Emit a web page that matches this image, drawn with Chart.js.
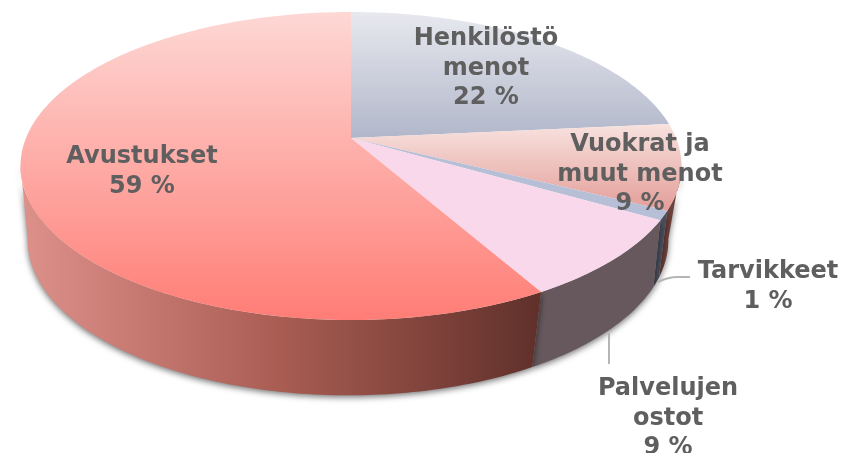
<!DOCTYPE html>
<html><head><meta charset="utf-8">
<style>html,body{margin:0;padding:0;background:#fff}canvas{display:block}</style>
<script src="https://cdn.jsdelivr.net/npm/chart.js@4"></script>
</head><body><canvas id="c" width="841" height="453"></canvas>
<script>
const categories = [["Henkilöstö","menot"],["Vuokrat ja","muut menot"],["Tarvikkeet"],["Palvelujen","ostot"],["Avustukset"]];
const values = [22, 9, 1, 9, 59];
const labelCenters = [[486,39],[640,145],[768,272],[668,389],[142,157]];

const canvas = document.getElementById('c');
const g = canvas.getContext('2d');
function vgrad(y0,y1,stops){const l=g.createLinearGradient(0,y0,0,y1);stops.forEach((s,i)=>l.addColorStop(i/(stops.length-1),s));return l;}
function hgrad(x0,x1,stops){const l=g.createLinearGradient(x0,0,x1,0);stops.forEach((s,i)=>l.addColorStop(i/(stops.length-1),s));return l;}
const topFills = [
  vgrad(12,138,['#e8e9ef','#b1b7ca']),
  vgrad(124,215,['#f8e2df','#e29a95']),
  '#b7bfd6',
  '#f8d8ea',
  vgrad(12,320,['#fdd8d5','#ff7d76'])
];
const wallFills = [
  '#6e4540','#6e413c','#4a4e5c','#66585d',
  hgrad(25,540,['#dc908a','#a85c52','#60302a'])
];
const P = 56/308, top3d={cx:351,cy:138,a:325,b:148.9}, bot3d={cx:348,cy:212,a:315,b:150};
const rad = d=>d*Math.PI/180;
function proj(m,deg){const u=Math.sin(rad(deg)),v=-Math.cos(rad(deg)),w=1/(1-P*v);return [m.cx+m.a*u*w,m.cy+m.b*v*w];}
const warp = deg=>deg+5.4*Math.sin(rad(deg));
const botAngle = deg=>{
  if(deg<=100||deg>=150) return deg;
  return deg-(deg<118?3*(deg-100)/18:3*(150-deg)/32);
};
const toDeg = ang=>ang*180/Math.PI+90;

const ArcEl = Chart.registry.getElement('arc');
ArcEl.prototype.draw = function(ctx){
  const s=warp(toDeg(this.startAngle)), e=warp(toDeg(this.endAngle));
  ctx.save();
  ctx.beginPath();
  ctx.moveTo(top3d.cx,top3d.cy);
  const n=Math.max(2,Math.ceil(e-s));
  for(let i=0;i<=n;i++){const p=proj(top3d,s+(e-s)*i/n);ctx.lineTo(p[0],p[1]);}
  ctx.closePath();
  ctx.fillStyle=this.options.backgroundColor;
  ctx.fill();
  ctx.restore();
};

const walls3d = {
  id:'walls3d',
  beforeDatasetsDraw(chart){
    const ctx=chart.ctx, arcs=chart.getDatasetMeta(0).data;
    arcs.forEach((el,i)=>{
      const s=Math.max(100,warp(toDeg(el.startAngle))), e=Math.min(260,warp(toDeg(el.endAngle)));
      if(e<=s) return;
      ctx.save();
      ctx.beginPath();
      const n=Math.ceil(e-s)+1;
      for(let k=0;k<=n;k++){const p=proj(top3d,s+(e-s)*k/n);k?ctx.lineTo(p[0],p[1]):ctx.moveTo(p[0],p[1]);}
      for(let k=n;k>=0;k--){const p=proj(bot3d,botAngle(s+(e-s)*k/n));ctx.lineTo(p[0],p[1]);}
      ctx.closePath();
      ctx.shadowColor='rgba(0,0,0,0.55)';ctx.shadowBlur=6;ctx.shadowOffsetY=2;
      ctx.fillStyle=wallFills[i];
      ctx.fill();
      ctx.restore();
    });
    ctx.save();
    ctx.strokeStyle='#b5b5b5';ctx.lineWidth=2;
    ctx.beginPath();ctx.moveTo(658,282);ctx.quadraticCurveTo(668,277,678,277);ctx.lineTo(690,277);
    ctx.moveTo(609,333);ctx.lineTo(609,364);ctx.stroke();
    ctx.restore();
  }
};
const sliceLabels = {
  id:'sliceLabels',
  afterDatasetsDraw(chart){
    const ctx=chart.ctx;
    ctx.save();
    ctx.font='bold 24px "DejaVu Sans"';
    ctx.fillStyle='#5f5f5f';ctx.textAlign='center';ctx.textBaseline='middle';
    categories.forEach((lines,i)=>{
      [...lines,values[i]+' %'].forEach((t,k)=>ctx.fillText(t,labelCenters[i][0],labelCenters[i][1]+k*29.3));
    });
    ctx.restore();
  }
};
new Chart(canvas,{
  type:'pie',
  data:{labels:categories.map(l=>l.join(' ')),datasets:[{data:values,backgroundColor:topFills,borderWidth:0}]},
  options:{responsive:false,animation:false,events:[],plugins:{legend:{display:false},tooltip:{enabled:false}}},
  plugins:[walls3d,sliceLabels]
});
</script></body></html>
